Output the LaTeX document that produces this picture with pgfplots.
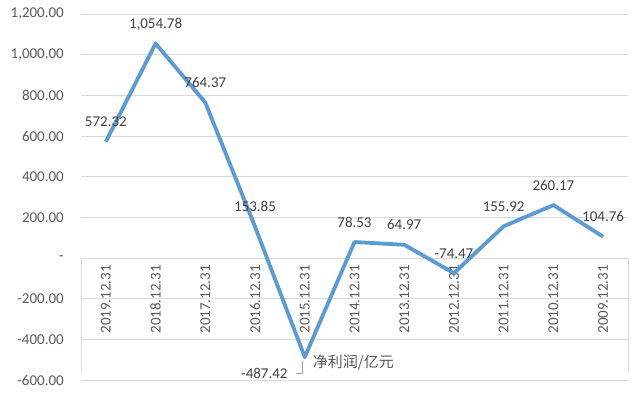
\documentclass[border=0pt]{standalone}
\usepackage{fontspec}
\setmainfont{Carlito}
\newfontfamily\cjk{Noto Sans CJK SC}
\usepackage{pgfplots}
\usepackage{pgfplotstable}
\pgfplotsset{compat=1.18}
\definecolor{gridgray}{HTML}{D9D9D9}
\definecolor{ticktxt}{HTML}{595959}
\definecolor{labtxt}{HTML}{404040}
\definecolor{lineblue}{HTML}{5B9BD5}
\pgfplotstableread{
x y lab
0 572.32 572.32
1 1054.78 {1,054.78}
2 764.37 764.37
3 153.85 153.85
4 -487.42 {}
5 78.53 78.53
6 64.97 64.97
7 -74.47 -74.47
8 155.92 155.92
9 260.17 260.17
10 104.76 104.76
}\profit
\begin{document}
\begin{tikzpicture}
\begin{axis}[
  scale only axis, width=547bp, height=366bp,
  xmin=-0.5, xmax=10.5, ymin=-600, ymax=1200,
  axis x line*=middle, axis y line*=left,
  x axis line style={draw=gridgray, line width=0.8bp},
  y axis line style={draw=none},
  major tick length=0pt,
  ymajorgrids, grid style={gridgray, line width=0.8bp},
  ytick={-600,-400,...,1200},
  yticklabels={-600.00,-400.00,-200.00,{-\hspace{11bp}},200.00,400.00,600.00,800.00,{1,000.00},{1,200.00}},
  xtick={0,...,10},
  xticklabels={2019.12.31,2018.12.31,2017.12.31,2016.12.31,2015.12.31,2014.12.31,2013.12.31,2012.12.31,2011.12.31,2010.12.31,2009.12.31},
  tick label style={font=\fontsize{15bp}{18bp}\selectfont, text=ticktxt},
  xticklabel style={rotate=90, anchor=east, inner sep=0pt, xshift=-7bp},
  yticklabel style={inner sep=0pt, xshift=-17bp},
  /pgf/number format/assume math mode=true,
  clip=false,
]
\addplot[gridgray, line width=0.8bp, forget plot] coordinates {(-0.5,0) (-0.5,-560)};
\addplot[gridgray, line width=0.8bp, forget plot] coordinates {(10.5,0) (10.5,-560)};
\addplot[lineblue, line width=3.8bp, line join=round, mark=none,
  nodes near coords, point meta=explicit symbolic,
  every node near coord/.append style={font=\fontsize{15bp}{18bp}\selectfont, text=labtxt, anchor=base, yshift=15bp, inner sep=0pt}]
  table[x=x, y=y, meta=lab] {\profit};
\addplot[draw=none, mark=none, nodes near coords, point meta=explicit symbolic,
  every node near coord/.append style={font=\fontsize{15bp}{18bp}\selectfont, text=labtxt, anchor=base east, inner sep=0pt, xshift=-17bp, yshift=-21bp}]
  coordinates {(4,-487.42) [-487.42]};
\addplot[draw=none, mark=none, nodes near coords, point meta=explicit symbolic,
  every node near coord/.append style={font=\fontsize{15bp}{18bp}\selectfont\cjk, text=ticktxt, anchor=west, inner sep=0pt, xshift=8bp, yshift=-5bp}]
  coordinates {(4,-487.42) [净利润/亿元]};
\addplot[gray!70, line width=0.6bp, mark=none] coordinates {(3.82,-565) (3.96,-565) (3.96,-506)};
\end{axis}
\pgfresetboundingbox
\path (current axis.south west) ++(-81bp,-13bp) rectangle ++(640bp,393bp);
\end{tikzpicture}
\end{document}
